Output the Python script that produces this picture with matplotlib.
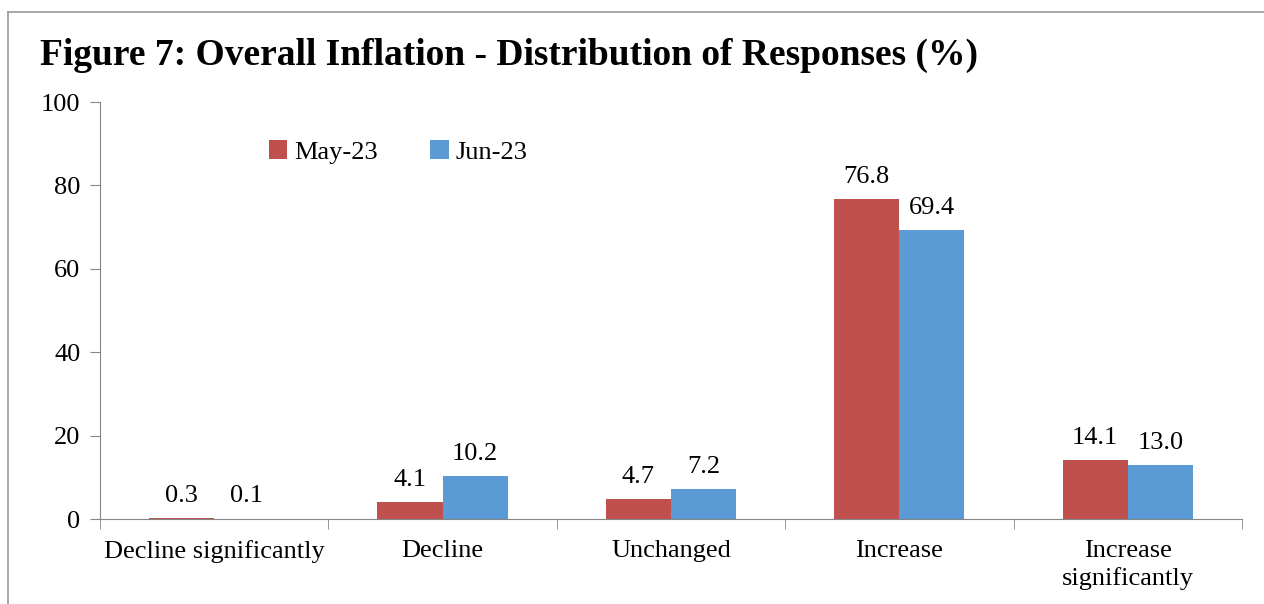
import numpy as np
import matplotlib.pyplot as plt
from matplotlib.lines import Line2D

# 응답 분포 데이터
categories = ['Decline significantly', 'Decline', 'Unchanged', 'Increase', 'Increase\nsignificantly']
may_23 = [0.3, 4.1, 4.7, 76.8, 14.1]
jun_23 = [0.1, 10.2, 7.2, 69.4, 13.0]
series_names = ['May-23', 'Jun-23']
y_ticks = [0, 20, 40, 60, 80, 100]

plt.rcParams['font.family'] = ['Liberation Serif', 'DejaVu Serif']

red = '#C0504D'
blue = '#5B9BD5'
gray = '#868686'
fs = 19

fig = plt.figure(figsize=(12.64, 6.04), dpi=100)
ax = fig.add_axes([0.0791, 0.1407, 0.9035, 0.6904])

x = np.arange(len(categories))
w = 0.285
b1 = ax.bar(x - w / 2, may_23, w, color=red, label=series_names[0])
b2 = ax.bar(x + w / 2, jun_23, w, color=blue, label=series_names[1])

# 막대 위 값 표시
for bars, vals in [(b1, may_23), (b2, jun_23)]:
    for bar, v in zip(bars, vals):
        ax.annotate(f'{v:.1f}', (bar.get_x() + bar.get_width() / 2, v),
                    xytext=(0, 8), textcoords='offset points',
                    ha='center', va='bottom', fontsize=fs)

ax.set_xlim(-0.5, len(categories) - 0.5)
ax.set_ylim(0, 100)
ax.set_yticks(y_ticks)
ax.tick_params(axis='y', labelsize=fs, length=7, color=gray, pad=7)

ax.set_xticks(x)
ax.set_xticklabels(categories, fontsize=fs, linespacing=1.3)
ax.set_xticks(np.arange(len(categories) + 1) - 0.5, minor=True)
ax.tick_params(axis='x', which='major', length=0, pad=15)
ax.tick_params(axis='x', which='minor', length=7, color=gray)

for s in ['top', 'right']:
    ax.spines[s].set_visible(False)
for s in ['left', 'bottom']:
    ax.spines[s].set_color(gray)

ax.legend(loc='center left', bbox_to_anchor=(0.148, 0.88), ncol=2, frameon=False,
          fontsize=fs, handlelength=0.7, handleheight=0.7, handletextpad=0.25,
          columnspacing=2.0, borderpad=0, borderaxespad=0)

fig.text(0.0316, 0.893, 'Figure 7: Overall Inflation - Distribution of Responses (%)',
         fontsize=27, fontweight='bold', va='baseline', ha='left')

# 외곽 테두리 (위, 왼쪽)
fig.add_artist(Line2D([8 / 1264, 1], [1 - 12 / 604, 1 - 12 / 604], color='#999999', lw=1.2))
fig.add_artist(Line2D([8 / 1264, 8 / 1264], [0, 1 - 12 / 604], color='#999999', lw=1.2))

fig.savefig('out.png', dpi=100)
